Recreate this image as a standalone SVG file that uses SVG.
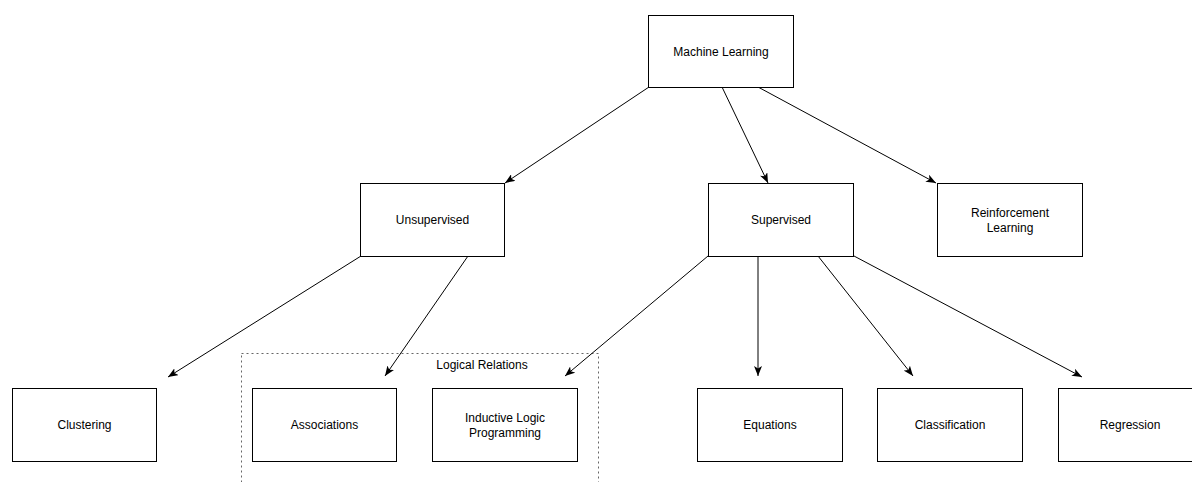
<svg xmlns="http://www.w3.org/2000/svg" width="1192" height="482" viewBox="0 0 1192 482">
<style>
.box{fill:#fff;stroke:#000;stroke-width:1}
.lbl{font-family:"Liberation Sans",Arial,sans-serif;font-size:12px;fill:#000;text-anchor:middle;dominant-baseline:central}
.edge{stroke:#000;stroke-width:1;fill:none;marker-end:url(#arr)}
</style>
<defs>
<marker id="arr" viewBox="0 0 10 8" refX="10" refY="4" markerWidth="10" markerHeight="8" markerUnits="userSpaceOnUse" orient="auto">
<path d="M0,0 L10,4 L0,8 L2.5,4 Z" fill="#000"/>
</marker>
</defs>
<rect width="1192" height="482" fill="#fff"/>
<g id="group-logical">
<rect x="241.5" y="353.5" width="357" height="140" fill="none" stroke="#666" stroke-dasharray="2,3"/>
<text class="lbl" x="482" y="365">Logical Relations</text>
</g>
<g id="connectors">
<line class="edge" x1="649" y1="87" x2="505" y2="183"/>
<line class="edge" x1="722" y1="87" x2="768" y2="183"/>
<line class="edge" x1="758" y1="87" x2="936" y2="183"/>
<line class="edge" x1="361" y1="256" x2="168" y2="377"/>
<line class="edge" x1="468" y1="256" x2="385" y2="376"/>
<line class="edge" x1="708" y1="256" x2="565" y2="376"/>
<line class="edge" x1="758" y1="256" x2="758" y2="376"/>
<line class="edge" x1="818" y1="256" x2="913" y2="376"/>
<line class="edge" x1="854" y1="256" x2="1082" y2="377"/>
</g>
<g id="ml"><rect class="box" x="648.5" y="15.5" width="145" height="72"/><text class="lbl" x="721" y="51.5">Machine Learning</text></g>
<g id="unsupervised"><rect class="box" x="360.5" y="183.5" width="144" height="73"/><text class="lbl" x="432.5" y="220">Unsupervised</text></g>
<g id="supervised"><rect class="box" x="708.5" y="183.5" width="145" height="73"/><text class="lbl" x="781" y="220">Supervised</text></g>
<g id="reinforcement"><rect class="box" x="937.5" y="183.5" width="145" height="73"/><text class="lbl" x="1010" y="213">Reinforcement</text><text class="lbl" x="1010" y="228">Learning</text></g>
<g id="clustering"><rect class="box" x="12.5" y="388.5" width="144" height="73"/><text class="lbl" x="84.5" y="425">Clustering</text></g>
<g id="associations"><rect class="box" x="252.5" y="388.5" width="144" height="73"/><text class="lbl" x="324.5" y="425">Associations</text></g>
<g id="ilp"><rect class="box" x="432.5" y="388.5" width="145" height="73"/><text class="lbl" x="505" y="418">Inductive Logic</text><text class="lbl" x="505" y="433">Programming</text></g>
<g id="equations"><rect class="box" x="697.5" y="388.5" width="145" height="73"/><text class="lbl" x="770" y="425">Equations</text></g>
<g id="classification"><rect class="box" x="877.5" y="388.5" width="145" height="73"/><text class="lbl" x="950" y="425">Classification</text></g>
<g id="regression"><rect class="box" x="1058.5" y="388.5" width="145" height="73"/><text class="lbl" x="1130" y="425">Regression</text></g>
</svg>
